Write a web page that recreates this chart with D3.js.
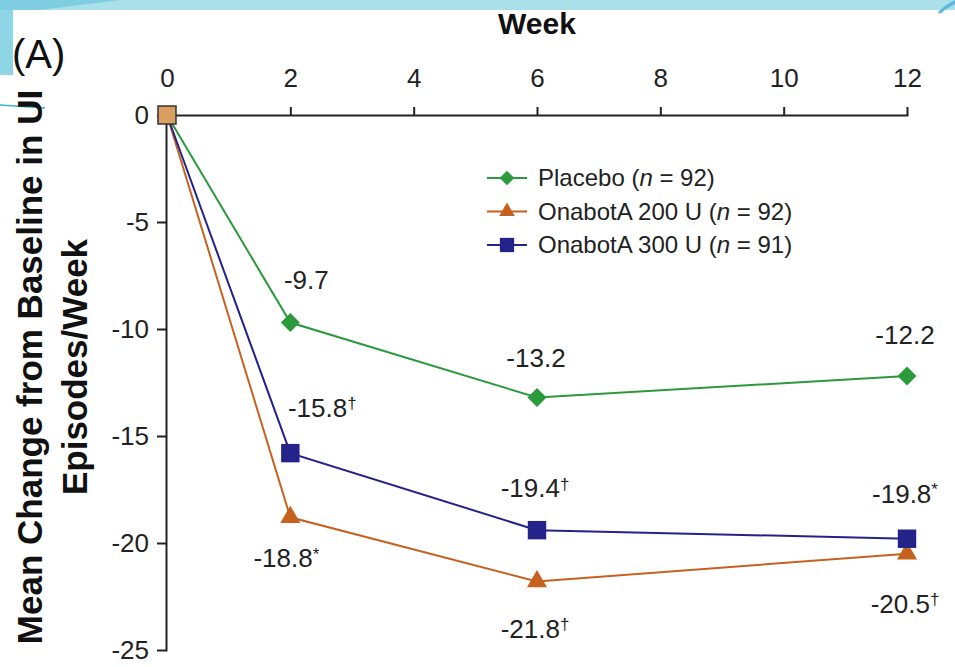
<!DOCTYPE html>
<html>
<head>
<meta charset="utf-8">
<script src="https://cdn.jsdelivr.net/npm/d3@7"></script>
<style>
	body { margin: 0; background: #fff; }
	svg { display: block; font-family: "Liberation Sans", Arial, Helvetica, sans-serif; }
	.axis path, .axis line { stroke: #222; stroke-width: 2; }
	.axis text { fill: #222; font-size: 26px; }
</style>
</head>
<body>
<div id="chart-area"></div>
<script>

// DATA

let weeks = [0, 2, 6, 12];
let placebo = [0, -9.7, -13.2, -12.2];
let onabot200 = [0, -18.8, -21.8, -20.5];
let onabot300 = [0, -15.8, -19.4, -19.8];

let seriesNames = ["Placebo", "OnabotA 200 U", "OnabotA 300 U"];
let seriesN = [92, 92, 91];

// significance marks next to the value labels
let placeboMarks = ["", "", "", ""];
let onabot200Marks = ["", "*", "\u2020", "\u2020"];
let onabot300Marks = ["", "\u2020", "\u2020", "*"];

let xTicks = [0, 2, 4, 6, 8, 10, 12];
let yTicks = [0, -5, -10, -15, -20, -25];


// CHART AREA

let margin = {top: 115, right: 48, bottom: 17, left: 167},
	width = 955 - margin.left - margin.right,
	height = 667 - margin.top - margin.bottom;

let root = d3.select("#chart-area").append("svg")
	.attr("width", 955)
	.attr("height", 667);

// slide decoration (light blue band and swoosh)
root.append("rect")
	.attr("x", 0).attr("y", 0)
	.attr("width", 955).attr("height", 10)
	.attr("fill", "#a9e0ea");
root.append("path")
	.attr("d", "M0,0 L120,0 L40,10 L13,10 L13,75 L0,75 Z")
	.attr("fill", "#7fcde0");
root.append("path")
	.attr("d", "M0,10 L13,10 L13,75 L0,75 Z")
	.attr("fill", "#8ed5e5");
root.append("path")
	.attr("d", "M0,105 L45,108")
	.attr("stroke", "#35b3cb")
	.attr("stroke-width", 1.5);
root.append("path")
	.attr("d", "M938,12 Q946,4 955,0 L955,4 Q947,8 940,14 Z")
	.attr("fill", "#5fb9d9");

let svg = root.append("g")
	.attr("transform", "translate(" + margin.left + "," + margin.top + ")");


// SCALES

let xScale = d3.scaleLinear()
	.domain([0, 12])
	.range([0, width]);

let yScale = d3.scaleLinear()
	.domain([0, -25])
	.range([0, height]);


// AXES

let xAxis = d3.axisTop(xScale)
	.tickValues(xTicks)
	.tickSize(8)
	.tickSizeOuter(0)
	.tickPadding(20)
	.tickFormat(d3.format("d"));

let yAxis = d3.axisLeft(yScale)
	.tickValues(yTicks)
	.tickSize(9)
	.tickSizeOuter(0)
	.tickPadding(8)
	.tickFormat(d => d3.format("d")(d).replace("\u2212", "-"));

svg.append("g")
	.attr("class", "x-axis axis")
	.call(xAxis);

svg.append("g")
	.attr("class", "y-axis axis")
	.attr("transform", "translate(-1,0)")
	.call(yAxis);

svg.selectAll(".axis .domain").attr("stroke-linecap", "square");

// axis titles
svg.append("text")
	.attr("x", xScale(6))
	.attr("y", -81)
	.attr("text-anchor", "middle")
	.style("font-size", "30px")
	.style("font-weight", "bold")
	.attr("fill", "#111")
	.text("Week");

let yTitle = root.append("text")
	.attr("transform", "translate(42,367) rotate(-90)")
	.attr("text-anchor", "middle")
	.style("font-size", "35px")
	.style("font-weight", "bold")
	.attr("fill", "#111");
yTitle.append("tspan").attr("x", 0).attr("y", 0).text("Mean Change from Baseline in UI");
yTitle.append("tspan").attr("x", 0).attr("y", 45).text("Episodes/Week");

root.append("text")
	.attr("x", 12)
	.attr("y", 68)
	.style("font-size", "40px")
	.attr("fill", "#111")
	.text("(A)");


// SERIES

let series = [
	{name: seriesNames[0], n: seriesN[0], values: placebo, marks: placeboMarks, color: "#2b9a3c", symbol: "diamond"},
	{name: seriesNames[1], n: seriesN[1], values: onabot200, marks: onabot200Marks, color: "#c6611f", symbol: "triangle"},
	{name: seriesNames[2], n: seriesN[2], values: onabot300, marks: onabot300Marks, color: "#23238a", symbol: "square"}
];

// label offsets from each point (dx, dy to text baseline)
let labelOffsets = [
	[null, [16, -34], [-1, -30], [-2, -32]],
	[null, [-4, 50], [-2, 56], [-2, 59]],
	[null, [32, -36], [-2, -33], [-2, -36]]
];

function symbolPath(type, scale) {
	if (type === "diamond") return d3.symbol(d3.symbolSquare, 180 * scale)();
	if (type === "triangle") return d3.symbol(d3.symbolTriangle, 175 * scale)();
	return d3.symbol(d3.symbolSquare, 340 * scale)();
}

let line = d3.line()
	.x(d => xScale(d[0]))
	.y(d => yScale(d[1]));

series.forEach(function(s, i) {
	let pts = weeks.map((w, j) => [w, s.values[j]]);

	svg.append("path")
		.datum(pts)
		.attr("fill", "none")
		.attr("stroke", s.color)
		.attr("stroke-width", 2)
		.attr("d", line);

	svg.selectAll(".pt-" + i)
		.data(pts.slice(1))
		.enter()
		.append("path")
		.attr("class", "pt-" + i)
		.attr("d", symbolPath(s.symbol, 1))
		.attr("fill", s.color)
		.attr("transform", d => "translate(" + xScale(d[0]) + "," + yScale(d[1]) + ")" + (s.symbol === "diamond" ? " rotate(45)" : ""));

	pts.forEach(function(d, j) {
		if (j === 0) return;
		let off = labelOffsets[i][j];
		let t = svg.append("text")
			.attr("x", xScale(d[0]) + off[0])
			.attr("y", yScale(d[1]) + off[1])
			.attr("text-anchor", "middle")
			.style("font-size", "26px")
			.attr("fill", "#222");
		t.append("tspan").text(d3.format(".1f")(d[1]).replace("\u2212", "-"));
		if (s.marks[j]) {
			t.append("tspan")
				.attr("dy", "-0.45em")
				.style("font-size", "17px")
				.text(s.marks[j]);
		}
	});
});

// baseline marker at week 0
svg.append("rect")
	.attr("x", xScale(weeks[0]) - 9)
	.attr("y", yScale(placebo[0]) - 9)
	.attr("width", 18)
	.attr("height", 18)
	.attr("fill", "#d9a062")
	.attr("stroke", "#333")
	.attr("stroke-width", 1.5);


// LEGEND

let legend = root.append("g")
	.attr("transform", "translate(487,178)");

series.forEach(function(s, i) {
	let row = legend.append("g")
		.attr("transform", "translate(0," + (i * 33.5) + ")");

	row.append("line")
		.attr("x1", 0).attr("x2", 40)
		.attr("stroke", s.color)
		.attr("stroke-width", 2);

	row.append("path")
		.attr("d", symbolPath(s.symbol, 0.6))
		.attr("fill", s.color)
		.attr("transform", "translate(20,0)" + (s.symbol === "diamond" ? " rotate(45)" : ""));

	let t = row.append("text")
		.attr("x", 51)
		.attr("y", 8)
		.style("font-size", "24px")
		.attr("fill", "#222");
	t.append("tspan").text(s.name + " (");
	t.append("tspan").style("font-style", "italic").text("n");
	t.append("tspan").text(" = " + s.n + ")");
});

</script>
</body>
</html>
